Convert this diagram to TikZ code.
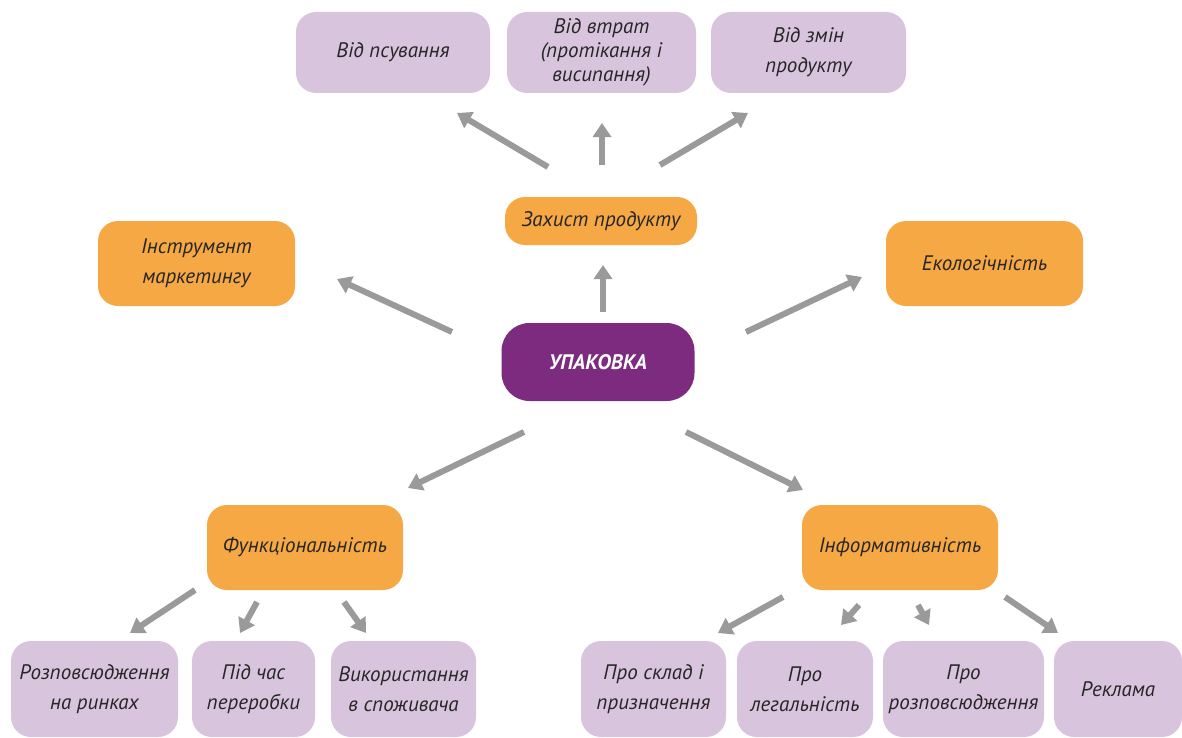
\documentclass[tikz,border=0pt]{standalone}
\usepackage{fontspec}
\setmainfont{PT Sans}
\usetikzlibrary{arrows.meta}
\definecolor{lilac}{HTML}{D9C4DD}
\definecolor{amber}{HTML}{F5A843}
\definecolor{plum}{HTML}{7D2B7E}
\definecolor{arrowgray}{HTML}{9A9A9A}
\tikzset{box/.style = {rounded corners=10pt, align=center, inner sep=2pt,
                       text=black!85, font=\itshape\fontsize{10.5}{15}\selectfont},
         leaf/.style = {box, fill=lilac},
         topic/.style = {box, fill=amber},
         hub/.style = {box, fill=plum, rounded corners=14pt, text=white,
                       font=\bfseries\itshape\fontsize{10.5}{12}\selectfont},
         arr/.style = {draw=arrowgray, line width=3pt,
                       -{Triangle[length=7pt,width=9pt]}}}

\begin{document}
\begin{tikzpicture}[x=0.5pt, y=-0.5pt]
      \useasboundingbox (0, 0) rectangle (1182, 738);
      % centre
      \node [hub, minimum width=96.5pt, minimum height=39pt] (pack) at (598, 362) {УПАКОВКА};
      % first level
      \node [topic, minimum width=96pt, minimum height=24pt] (prot) at (601, 221) {Захист продукту};
      \node [topic, minimum width=98.5pt, minimum height=42.5pt] (tool) at (196.5, 263.5) {Інструмент\\маркетингу};
      \node [topic, minimum width=98.5pt, minimum height=42.5pt] (eco) at (984.5, 263.5) {Екологічність};
      \node [topic, minimum width=98pt, minimum height=42.5pt] (func) at (305, 547.5) {Функціональність};
      \node [topic, minimum width=98pt, minimum height=42.5pt] (info) at (900, 547.5) {Інформативність};
      % top row
      \node [leaf, minimum width=97pt, minimum height=40.5pt] (spoil) at (393, 52.5) {Від псування};
      \node [leaf, minimum width=94.5pt, minimum height=40.5pt, inner sep=0pt,
             font=\itshape\fontsize{10.5}{12}\selectfont] (loss) at (601.5, 52.5) {Від втрат\\(протікання і\\висипання)};
      \node [leaf, minimum width=97.5pt, minimum height=40.5pt] (change) at (808.5, 52.5) {Від змін\\продукту};
      % bottom row
      \node [leaf, minimum width=83.5pt, minimum height=48pt] (distr) at (94.5, 689) {Розповсюдження\\на ринках};
      \node [leaf, minimum width=61.5pt, minimum height=48pt] (proc) at (253.5, 689) {Під час\\переробки};
      \node [leaf, minimum width=72.5pt, minimum height=48pt] (use) at (403.5, 689) {Використання\\в споживача};
      \node [leaf, minimum width=72.5pt, minimum height=48pt] (comp) at (653.5, 689) {Про склад і\\призначення};
      \node [leaf, minimum width=68pt, minimum height=48pt] (legal) at (805, 689) {Про\\легальність};
      \node [leaf, minimum width=80.5pt, minimum height=48pt] (spread) at (963.5, 689) {Про\\розповсюдження};
      \node [leaf, minimum width=64pt, minimum height=48pt] (adv) at (1118, 689) {Реклама};
      % arrows
      \draw [arr] ([shift={(-53, -54)}]prot.center) -- ([shift={(64, 60.5)}]spoil.center);
      \draw [arr] ([shift={(1, -56)}]prot.center) -- ([shift={(0.5, 70.5)}]loss.center);
      \draw [arr] ([shift={(59, -56)}]prot.center) -- ([shift={(-60.5, 60.5)}]change.center);
      \draw [arr] ([shift={(-146, -30)}]pack.center) -- ([shift={(140.5, 15.5)}]tool.center);
      \draw [arr] ([shift={(5, -50)}]pack.center) -- ([shift={(2, 44)}]prot.center);
      \draw [arr] ([shift={(148, -30)}]pack.center) -- ([shift={(-122.5, 13.5)}]eco.center);
      \draw [arr] ([shift={(-74, 70)}]pack.center) -- ([shift={(103, -59.5)}]func.center);
      \draw [arr] ([shift={(88, 70)}]pack.center) -- ([shift={(-97, -57.5)}]info.center);
      \draw [arr] ([shift={(-110, 42.5)}]func.center) -- ([shift={(35.5, -56)}]distr.center);
      \draw [arr] ([shift={(-48, 54.5)}]func.center) -- ([shift={(-13.5, -56)}]proc.center);
      \draw [arr] ([shift={(39, 54.5)}]func.center) -- ([shift={(-37.5, -56)}]use.center);
      \draw [arr] ([shift={(-117, 49.5)}]info.center) -- ([shift={(64.5, -56)}]comp.center);
      \draw [arr] ([shift={(-41, 57.5)}]info.center) -- ([shift={(36, -64)}]legal.center);
      \draw [arr] ([shift={(18, 57.5)}]info.center) -- ([shift={(-34.5, -64)}]spread.center);
      \draw [arr] ([shift={(105, 49.5)}]info.center) -- ([shift={(-60, -56)}]adv.center);
    \end{tikzpicture}
\end{document}
